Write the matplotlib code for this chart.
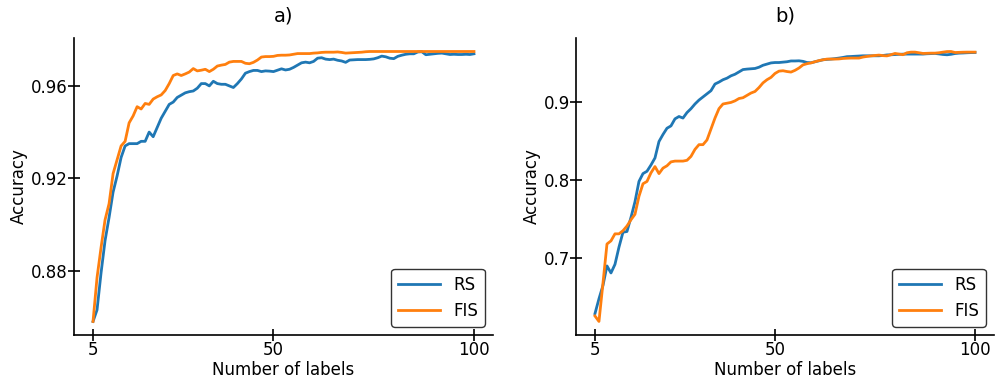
import matplotlib
matplotlib.use("Agg")
from matplotlib import pyplot as plt

# number of labels (shared x axis for both panels)
labels = list(range(5, 101))

# a) accuracy
rs_a = [0.858, 0.863, 0.879, 0.893, 0.903, 0.914, 0.921, 0.929, 0.934, 0.935,
        0.935, 0.935, 0.936, 0.936, 0.940, 0.938, 0.942, 0.946, 0.949, 0.952,
        0.953, 0.955, 0.956, 0.957, 0.9575, 0.9578, 0.959, 0.961, 0.961, 0.960,
        0.962, 0.961, 0.9607, 0.9607, 0.960, 0.9593, 0.961, 0.963, 0.9655, 0.9662,
        0.9667, 0.9667, 0.9662, 0.9665, 0.9664, 0.9662, 0.9668, 0.9674, 0.9669, 0.9672,
        0.968, 0.969, 0.970, 0.9703, 0.970, 0.9706, 0.972, 0.9722, 0.9716, 0.9714,
        0.9716, 0.9711, 0.9708, 0.9702, 0.9712, 0.9713, 0.9714, 0.9714, 0.9714, 0.9715,
        0.9717, 0.9722, 0.9729, 0.9726, 0.972, 0.9718, 0.9728, 0.9733, 0.9737, 0.9739,
        0.9739, 0.9747, 0.9748, 0.9735, 0.9737, 0.9739, 0.9741, 0.9742, 0.9739, 0.9736,
        0.9737, 0.9736, 0.9736, 0.9737, 0.9736, 0.9739]
fis_a = [0.858, 0.877, 0.890, 0.902, 0.909, 0.922, 0.928, 0.934, 0.936, 0.944,
         0.947, 0.951, 0.950, 0.9524, 0.952, 0.9543, 0.9553, 0.9561, 0.958, 0.961,
         0.9645, 0.9652, 0.9645, 0.9652, 0.966, 0.9675, 0.9665, 0.9668, 0.9672, 0.9662,
         0.9672, 0.9686, 0.969, 0.9693, 0.9703, 0.9706, 0.9706, 0.9706, 0.9698, 0.9696,
         0.9702, 0.9712, 0.9725, 0.9727, 0.9727, 0.9728, 0.9732, 0.9733, 0.9733, 0.9734,
         0.9737, 0.974, 0.974, 0.974, 0.974, 0.9742, 0.9743, 0.9745, 0.9746, 0.9746,
         0.9746, 0.9747, 0.9745, 0.9742, 0.9743, 0.9744, 0.9745, 0.9746, 0.9748, 0.9749,
         0.9749, 0.9749, 0.9749, 0.9749, 0.9749, 0.9749, 0.9749, 0.9749, 0.9749, 0.9749,
         0.9749, 0.9749, 0.9749, 0.9749, 0.9749, 0.9749, 0.9749, 0.9749, 0.9749, 0.9749,
         0.9749, 0.9749, 0.9749, 0.9749, 0.9749, 0.9749]

# b) accuracy
rs_b = [0.629, 0.648, 0.665, 0.690, 0.681, 0.692, 0.714, 0.733, 0.734, 0.752,
        0.772, 0.798, 0.808, 0.811, 0.819, 0.828, 0.849, 0.858, 0.866, 0.869,
        0.878, 0.881, 0.879, 0.886, 0.891, 0.897, 0.902, 0.906, 0.910, 0.914,
        0.9225, 0.925, 0.928, 0.930, 0.933, 0.935, 0.938, 0.941, 0.9416, 0.942,
        0.9424, 0.944, 0.9465, 0.948, 0.9495, 0.950, 0.950, 0.9505, 0.951, 0.952,
        0.952, 0.9522, 0.9515, 0.950, 0.9497, 0.951, 0.9522, 0.9535, 0.954, 0.9544,
        0.955, 0.9557, 0.9565, 0.9575, 0.9577, 0.958, 0.9583, 0.9586, 0.9586, 0.9586,
        0.9586, 0.9586, 0.959, 0.9597, 0.9599, 0.9602, 0.9605, 0.9607, 0.9608, 0.9608,
        0.9608, 0.9608, 0.9608, 0.9612, 0.9614, 0.9616, 0.961, 0.9603, 0.9599, 0.9605,
        0.9615, 0.962, 0.9622, 0.9625, 0.9627, 0.9628]
fis_b = [0.626, 0.619, 0.668, 0.718, 0.722, 0.731, 0.731, 0.735, 0.741, 0.749,
         0.756, 0.779, 0.795, 0.798, 0.809, 0.817, 0.808, 0.815, 0.818, 0.823,
         0.824, 0.824, 0.824, 0.825, 0.830, 0.839, 0.845, 0.845, 0.851, 0.865,
         0.879, 0.891, 0.897, 0.898, 0.899, 0.901, 0.904, 0.905, 0.908, 0.911,
         0.913, 0.918, 0.924, 0.928, 0.931, 0.936, 0.939, 0.9395, 0.9385, 0.9378,
         0.940, 0.943, 0.947, 0.9485, 0.9495, 0.951, 0.9525, 0.9535, 0.9544, 0.9544,
         0.9544, 0.9546, 0.9552, 0.9555, 0.9557, 0.9557, 0.9557, 0.957, 0.9578, 0.9585,
         0.959, 0.9595, 0.9588, 0.9585, 0.960, 0.9616, 0.9608, 0.96, 0.9625, 0.9633,
         0.9633, 0.9625, 0.9616, 0.9618, 0.962, 0.962, 0.9625, 0.9633, 0.964, 0.9641,
         0.9628, 0.963, 0.9632, 0.9633, 0.9633, 0.9633]

fig = plt.figure(figsize=(9.97, 3.85), dpi=100)
ax1 = fig.add_axes([0.0742, 0.13, 0.4203, 0.7713])
ax2 = fig.add_axes([0.5777, 0.13, 0.4193, 0.7713])

panels = [(ax1, rs_a, fis_a, "a)", [0.88, 0.92, 0.96]),
          (ax2, rs_b, fis_b, "b)", [0.7, 0.8, 0.9])]

for ax, rs, fis, title, yt in panels:
    ax.plot(labels, rs, color="tab:blue", lw=2, label="RS")
    ax.plot(labels, fis, color="tab:orange", lw=2, label="FIS")
    ax.set_title(title, fontsize=14, pad=12)
    ax.set_xlabel("Number of labels", fontsize=12, labelpad=1)
    ax.set_ylabel("Accuracy", fontsize=12, labelpad=2)
    ax.set_xticks([5, 50, 100])
    ax.set_yticks(yt)
    ax.tick_params(direction="inout", labelsize=12, length=9, width=1.2, pad=0)
    ax.spines["top"].set_visible(False)
    ax.spines["right"].set_visible(False)
    ax.spines["left"].set_linewidth(1.2)
    ax.spines["bottom"].set_linewidth(1.2)
    leg = ax.legend(loc="lower right", fontsize=12, framealpha=1,
                    edgecolor="#333333", handlelength=2.5)
    leg.get_frame().set_linewidth(1.0)

fig.savefig("out.png", dpi=100)
